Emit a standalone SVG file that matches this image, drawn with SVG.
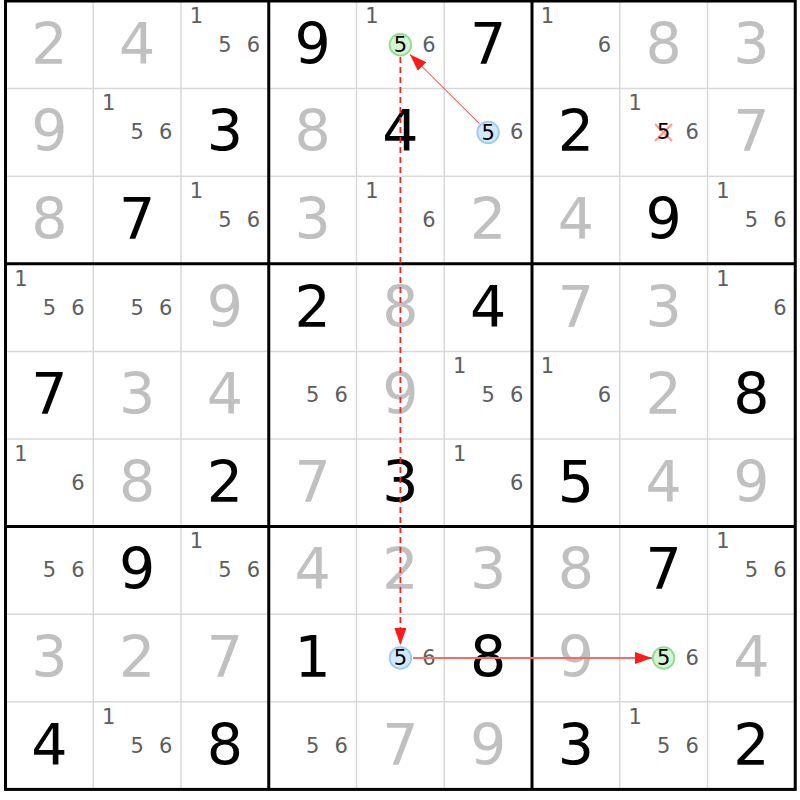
<svg xmlns="http://www.w3.org/2000/svg" width="800" height="800" viewBox="0 0 800 800">
<defs>
<style>
.bg{fill:#ffffff}
.thin{stroke:#d9d9d9;stroke-width:1.5;fill:none}
.thick{stroke:#000000;stroke-width:3;fill:none}
.g{font-family:"DejaVu Sans","Liberation Sans",sans-serif;font-size:57px;fill:#c0c0c0;text-anchor:middle}
.k{font-family:"DejaVu Sans","Liberation Sans",sans-serif;font-size:57px;fill:#000000;text-anchor:middle}
.c{font-family:"DejaVu Sans","Liberation Sans",sans-serif;font-size:21px;fill:#5e5e5e;text-anchor:middle}
.hl{font-family:"DejaVu Sans","Liberation Sans",sans-serif;font-size:21px;fill:#000000;text-anchor:middle}
.grn{fill:#d4f2d4;stroke:#8fdc8f;stroke-width:1.8}
.blu{fill:#d3e8fb;stroke:#9ccaf2;stroke-width:1.8}
.x{stroke:#ff9a9a;stroke-width:2.2}
.a1{stroke:#ff2020;stroke-width:1;fill:none}
.a2{stroke:#ff2020;stroke-width:1.8;stroke-dasharray:6 4;fill:none}
.a3{stroke:#ff6666;stroke-width:2;fill:none}
</style>
<marker id="ah" viewBox="0 0 17 12" refX="17" refY="6" markerWidth="17" markerHeight="12" markerUnits="userSpaceOnUse" orient="auto">
<path d="M0,0 L17,6 L0,12 Z" fill="#ff1a1a"/>
</marker>
</defs>
<rect class="bg" x="0" y="0" width="800" height="800"/>
<g id="grid">
<path class="thin" d="M93.25,1V789.4M181,1V789.4M356.5,1V789.4M444.25,1V789.4M619.75,1V789.4M707.5,1V789.4M5.5,88.6H795.25M5.5,176.2H795.25M5.5,351.4H795.25M5.5,439H795.25M5.5,614.2H795.25M5.5,701.8H795.25"/>
<path class="thick" d="M268.75,1V789.4M532,1V789.4M5.5,263.8H795.25M5.5,526.6H795.25"/>
<rect class="thick" x="5.5" y="1" width="789.75" height="788.4"/>
</g>
<g id="r1c1"><text class="g" x="49.4" y="63.8">2</text></g>
<g id="r1c2"><text class="g" x="137.1" y="63.8">4</text></g>
<g id="r1c3"><text class="c" x="196.4" y="22.7">1</text><text class="c" x="224.9" y="51.7">5</text><text class="c" x="253.4" y="51.7">6</text></g>
<g id="r1c4"><text class="k" x="312.6" y="63.8">9</text></g>
<g id="r1c5"><text class="c" x="371.9" y="22.7">1</text><circle class="grn" cx="400.4" cy="44.8" r="10.8"/><text class="hl" x="400.4" y="51.9">5</text><text class="c" x="428.9" y="51.7">6</text></g>
<g id="r1c6"><text class="k" x="488.1" y="63.8">7</text></g>
<g id="r1c7"><text class="c" x="547.4" y="22.7">1</text><text class="c" x="604.4" y="51.7">6</text></g>
<g id="r1c8"><text class="g" x="663.6" y="63.8">8</text></g>
<g id="r1c9"><text class="g" x="751.4" y="63.8">3</text></g>

<g id="r2c1"><text class="g" x="49.4" y="151.4">9</text></g>
<g id="r2c2"><text class="c" x="108.6" y="110.3">1</text><text class="c" x="137.1" y="139.3">5</text><text class="c" x="165.6" y="139.3">6</text></g>
<g id="r2c3"><text class="k" x="224.9" y="151.4">3</text></g>
<g id="r2c4"><text class="g" x="312.6" y="151.4">8</text></g>
<g id="r2c5"><text class="k" x="400.4" y="151.4">4</text></g>
<g id="r2c6"><circle class="blu" cx="488.1" cy="132.4" r="10.8"/><text class="hl" x="488.1" y="139.5">5</text><text class="c" x="516.6" y="139.3">6</text></g>
<g id="r2c7"><text class="k" x="575.9" y="151.4">2</text></g>
<g id="r2c8"><text class="c" x="635.1" y="110.3">1</text><path class="x" d="M655,124L672,141M672,124L655,141"/><text class="hl" x="663.6" y="139.3">5</text><text class="c" x="692.1" y="139.3">6</text></g>
<g id="r2c9"><text class="g" x="751.4" y="151.4">7</text></g>

<g id="r3c1"><text class="g" x="49.4" y="239">8</text></g>
<g id="r3c2"><text class="k" x="137.1" y="239">7</text></g>
<g id="r3c3"><text class="c" x="196.4" y="197.9">1</text><text class="c" x="224.9" y="226.9">5</text><text class="c" x="253.4" y="226.9">6</text></g>
<g id="r3c4"><text class="g" x="312.6" y="239">3</text></g>
<g id="r3c5"><text class="c" x="371.9" y="197.9">1</text><text class="c" x="428.9" y="226.9">6</text></g>
<g id="r3c6"><text class="g" x="488.1" y="239">2</text></g>
<g id="r3c7"><text class="g" x="575.9" y="239">4</text></g>
<g id="r3c8"><text class="k" x="663.6" y="239">9</text></g>
<g id="r3c9"><text class="c" x="722.9" y="197.9">1</text><text class="c" x="751.4" y="226.9">5</text><text class="c" x="779.9" y="226.9">6</text></g>

<g id="r4c1"><text class="c" x="20.9" y="285.5">1</text><text class="c" x="49.4" y="314.5">5</text><text class="c" x="77.9" y="314.5">6</text></g>
<g id="r4c2"><text class="c" x="137.1" y="314.5">5</text><text class="c" x="165.6" y="314.5">6</text></g>
<g id="r4c3"><text class="g" x="224.9" y="326.6">9</text></g>
<g id="r4c4"><text class="k" x="312.6" y="326.6">2</text></g>
<g id="r4c5"><text class="g" x="400.4" y="326.6">8</text></g>
<g id="r4c6"><text class="k" x="488.1" y="326.6">4</text></g>
<g id="r4c7"><text class="g" x="575.9" y="326.6">7</text></g>
<g id="r4c8"><text class="g" x="663.6" y="326.6">3</text></g>
<g id="r4c9"><text class="c" x="722.9" y="285.5">1</text><text class="c" x="779.9" y="314.5">6</text></g>

<g id="r5c1"><text class="k" x="49.4" y="414.2">7</text></g>
<g id="r5c2"><text class="g" x="137.1" y="414.2">3</text></g>
<g id="r5c3"><text class="g" x="224.9" y="414.2">4</text></g>
<g id="r5c4"><text class="c" x="312.6" y="402.1">5</text><text class="c" x="341.1" y="402.1">6</text></g>
<g id="r5c5"><text class="g" x="400.4" y="414.2">9</text></g>
<g id="r5c6"><text class="c" x="459.6" y="373.1">1</text><text class="c" x="488.1" y="402.1">5</text><text class="c" x="516.6" y="402.1">6</text></g>
<g id="r5c7"><text class="c" x="547.4" y="373.1">1</text><text class="c" x="604.4" y="402.1">6</text></g>
<g id="r5c8"><text class="g" x="663.6" y="414.2">2</text></g>
<g id="r5c9"><text class="k" x="751.4" y="414.2">8</text></g>

<g id="r6c1"><text class="c" x="20.9" y="460.7">1</text><text class="c" x="77.9" y="489.7">6</text></g>
<g id="r6c2"><text class="g" x="137.1" y="501.8">8</text></g>
<g id="r6c3"><text class="k" x="224.9" y="501.8">2</text></g>
<g id="r6c4"><text class="g" x="312.6" y="501.8">7</text></g>
<g id="r6c5"><text class="k" x="400.4" y="501.8">3</text></g>
<g id="r6c6"><text class="c" x="459.6" y="460.7">1</text><text class="c" x="516.6" y="489.7">6</text></g>
<g id="r6c7"><text class="k" x="575.9" y="501.8">5</text></g>
<g id="r6c8"><text class="g" x="663.6" y="501.8">4</text></g>
<g id="r6c9"><text class="g" x="751.4" y="501.8">9</text></g>

<g id="r7c1"><text class="c" x="49.4" y="577.3">5</text><text class="c" x="77.9" y="577.3">6</text></g>
<g id="r7c2"><text class="k" x="137.1" y="589.4">9</text></g>
<g id="r7c3"><text class="c" x="196.4" y="548.3">1</text><text class="c" x="224.9" y="577.3">5</text><text class="c" x="253.4" y="577.3">6</text></g>
<g id="r7c4"><text class="g" x="312.6" y="589.4">4</text></g>
<g id="r7c5"><text class="g" x="400.4" y="589.4">2</text></g>
<g id="r7c6"><text class="g" x="488.1" y="589.4">3</text></g>
<g id="r7c7"><text class="g" x="575.9" y="589.4">8</text></g>
<g id="r7c8"><text class="k" x="663.6" y="589.4">7</text></g>
<g id="r7c9"><text class="c" x="722.9" y="548.3">1</text><text class="c" x="751.4" y="577.3">5</text><text class="c" x="779.9" y="577.3">6</text></g>

<g id="r8c1"><text class="g" x="49.4" y="677">3</text></g>
<g id="r8c2"><text class="g" x="137.1" y="677">2</text></g>
<g id="r8c3"><text class="g" x="224.9" y="677">7</text></g>
<g id="r8c4"><text class="k" x="312.6" y="677">1</text></g>
<g id="r8c5"><circle class="blu" cx="400.4" cy="658" r="10.8"/><text class="hl" x="400.4" y="665.1">5</text><text class="c" x="428.9" y="664.9">6</text></g>
<g id="r8c6"><text class="k" x="488.1" y="677">8</text></g>
<g id="r8c7"><text class="g" x="575.9" y="677">9</text></g>
<g id="r8c8"><circle class="grn" cx="663.6" cy="658" r="10.8"/><text class="hl" x="663.6" y="665.1">5</text><text class="c" x="692.1" y="664.9">6</text></g>
<g id="r8c9"><text class="g" x="751.4" y="677">4</text></g>

<g id="r9c1"><text class="k" x="49.4" y="764.6">4</text></g>
<g id="r9c2"><text class="c" x="108.6" y="723.5">1</text><text class="c" x="137.1" y="752.5">5</text><text class="c" x="165.6" y="752.5">6</text></g>
<g id="r9c3"><text class="k" x="224.9" y="764.6">8</text></g>
<g id="r9c4"><text class="c" x="312.6" y="752.5">5</text><text class="c" x="341.1" y="752.5">6</text></g>
<g id="r9c5"><text class="g" x="400.4" y="764.6">7</text></g>
<g id="r9c6"><text class="g" x="488.1" y="764.6">9</text></g>
<g id="r9c7"><text class="k" x="575.9" y="764.6">3</text></g>
<g id="r9c8"><text class="c" x="635.1" y="723.5">1</text><text class="c" x="663.6" y="752.5">5</text><text class="c" x="692.1" y="752.5">6</text></g>
<g id="r9c9"><text class="k" x="751.4" y="764.6">2</text></g>

<g id="connectors">
<line class="a1" x1="479.5" y1="123.8" x2="410" y2="54.5" marker-end="url(#ah)"/>
<line class="a2" x1="400.4" y1="57" x2="400.4" y2="645" marker-end="url(#ah)"/>
<line class="a3" x1="413" y1="658" x2="652" y2="658" marker-end="url(#ah)"/>
</g>
</svg>
